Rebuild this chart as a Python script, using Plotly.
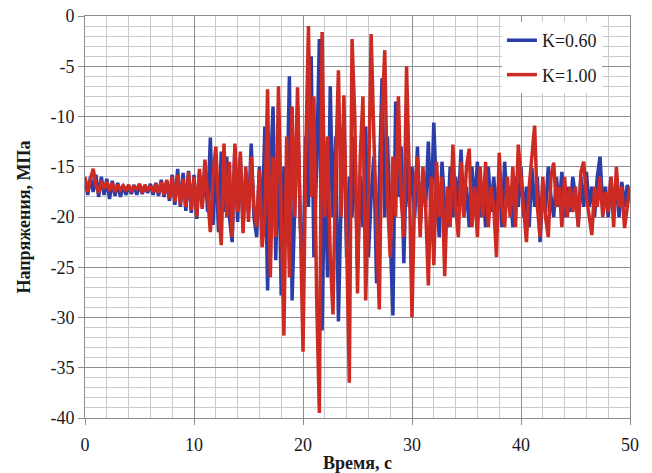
import numpy as np
import plotly.graph_objects as go

# Time grid, 0.25 s step from 0 to 50 s
time_s = np.round(np.arange(0, 50.001, 0.25), 2)

# Stress history, K = 0.60 (MPa)
stress_k060 = [
    -16.2, -17.8, -16.0, -17.5,
    -15.8, -18.0, -16.0, -17.8,
    -16.2, -18.2, -16.4, -17.9,
    -16.6, -18.0, -16.8, -17.8,
    -16.9, -17.7, -16.8, -17.8,
    -16.8, -17.7, -16.9, -17.6,
    -16.7, -17.8, -16.6, -17.9,
    -16.3, -18.0, -16.4, -18.4,
    -15.8, -18.8, -15.2, -19.0,
    -15.6, -19.4, -15.4, -19.6,
    -15.8, -20.2, -15.6, -19.0,
    -14.8, -19.5, -12.1, -20.8,
    -14.0, -21.5, -13.5, -19.5,
    -14.0, -20.0, -22.5, -13.0,
    -20.5, -14.0, -21.0, -15.5,
    -19.5, -12.7, -20.0, -22.0,
    -15.0, -21.5, -11.0, -27.3,
    -16.0, -9.0, -24.3, -12.0,
    -27.8, -15.0, -20.0, -6.0,
    -28.3, -17.0, -9.0, -21.0,
    -25.0, -12.0, -19.0, -4.0,
    -24.0, -15.0, -2.3, -31.3,
    -14.0, -26.0, -7.0, -20.0,
    -12.0, -30.4, -18.0, -10.0,
    -24.0, -16.0, -20.0, -12.0,
    -25.0, -16.0, -21.0, -11.0,
    -24.0, -18.0, -14.0, -26.6,
    -15.0, -6.2, -20.0, -12.0,
    -22.0, -29.8, -8.5, -18.0,
    -13.0, -24.6, -14.0, -19.0,
    -15.0, -20.0, -13.0, -21.0,
    -16.0, -19.0, -12.5, -20.0,
    -10.6, -18.0, -22.0, -14.5,
    -19.0, -21.0, -15.0, -20.0,
    -16.0, -19.0, -13.3, -20.0,
    -17.0, -21.0, -15.0, -19.0,
    -14.5, -20.0, -17.0, -21.0,
    -15.0, -19.5, -16.0, -20.0,
    -16.0, -21.0, -14.5, -19.0,
    -17.0, -21.0, -16.0, -19.0,
    -15.0, -20.0, -17.0, -21.0,
    -15.1, -19.0, -16.0, -22.5,
    -17.0, -19.5, -15.0, -18.0,
    -20.0, -16.0, -19.0, -15.5,
    -20.0, -17.0, -19.5, -16.0,
    -18.0, -20.8, -16.0, -19.0,
    -15.5, -19.0, -17.0, -20.0,
    -16.0, -14.0, -19.0, -17.0,
    -20.0, -16.0, -19.0, -17.0,
    -20.0, -16.5, -19.0, -16.8,
    -18.0,
]

# Stress history, K = 1.00 (MPa)
stress_k100 = [
    -16.0, -17.5, -16.2, -15.2,
    -16.8, -17.6, -16.4, -17.2,
    -16.5, -17.4, -16.6, -17.5,
    -16.8, -17.3, -16.9, -17.4,
    -16.8, -17.5, -16.9, -17.3,
    -16.7, -17.6, -16.8, -17.4,
    -16.9, -17.5, -16.7, -17.6,
    -16.5, -17.8, -16.3, -18.2,
    -16.0, -18.5, -15.8, -18.8,
    -16.2, -19.0, -15.5, -19.3,
    -16.0, -20.0, -15.2, -19.2,
    -14.3, -18.5, -21.5, -16.0,
    -13.0, -19.0, -22.8, -12.7,
    -20.0, -14.5, -22.0, -12.7,
    -19.5, -13.5, -21.6, -15.0,
    -20.5, -14.0, -19.0, -21.0,
    -15.3, -23.0, -20.0, -7.3,
    -26.0, -14.0, -22.0, -7.0,
    -19.0, -31.8, -12.0, -26.0,
    -9.0, -20.0, -7.1, -22.0,
    -33.4, -14.0, -1.0, -18.0,
    -8.0, -28.0, -39.5, -1.6,
    -20.0, -12.0, -24.0, -29.7,
    -15.0, -5.4, -20.0, -7.9,
    -22.0, -36.5, -2.3, -10.0,
    -27.6, -14.0, -8.0, -28.3,
    -18.0, -1.8, -12.0, -22.0,
    -29.2, -10.0, -3.4, -18.0,
    -24.0, -14.0, -20.0, -8.0,
    -18.0, -22.0, -5.0, -16.0,
    -30.0, -17.0, -14.0, -22.0,
    -15.0, -19.0, -26.8, -16.0,
    -24.8, -14.5, -20.0, -16.0,
    -25.9, -17.0, -21.0, -12.8,
    -19.0, -22.0, -14.5, -20.0,
    -15.0, -13.2, -21.0, -17.0,
    -22.0, -15.0, -20.0, -14.5,
    -21.0, -17.0, -19.0, -24.0,
    -13.6, -19.0, -21.0, -16.0,
    -20.0, -15.0, -21.0, -12.8,
    -16.0, -19.0, -22.5, -17.0,
    -14.0, -10.9, -19.0, -22.0,
    -16.0, -20.0, -22.0, -16.0,
    -14.6, -19.0, -17.0, -21.0,
    -16.0, -20.0, -17.0, -19.5,
    -17.0, -21.0, -15.5, -14.5,
    -18.0, -20.0, -21.8, -17.0,
    -19.0, -16.0, -20.0, -17.5,
    -19.5, -16.0, -21.0, -15.0,
    -19.0, -17.0, -21.1, -19.0,
    -17.0,
]

# Axis tick values and their labels (plain hyphen for negatives)
x_ticks = [0, 10, 20, 30, 40, 50]
x_labels = ["0", "10", "20", "30", "40", "50"]
y_ticks = [0, -5, -10, -15, -20, -25, -30, -35, -40]
y_labels = ["0", "-5", "-10", "-15", "-20", "-25", "-30", "-35", "-40"]

series = [
    ("K=0.60", stress_k060, "#2b3ea8"),
    ("K=1.00", stress_k100, "#cc2a22"),
]

SERIF = "Liberation Serif, Times New Roman, serif"
TEXT = "#1a1a1a"

fig = go.Figure()
for name, values, color in series:
    fig.add_trace(go.Scatter(
        x=time_s, y=values, mode="lines", name=name, legendgroup=name,
        line=dict(color=color, width=3.5),
    ))

axis_common = dict(
    showline=True, linecolor="#8c8c94", linewidth=1, mirror=True,
    ticks="outside", ticklen=6, tickcolor="#8c8c94",
    gridcolor="#8e8e96", gridwidth=1,
    tickfont=dict(family=SERIF, size=18, color=TEXT),
    zeroline=False, automargin=False,
)

fig.update_xaxes(
    range=[0, 50], tickmode="array", tickvals=x_ticks, ticktext=x_labels,
    ticklabelstandoff=4,
    minor=dict(dtick=2, tick0=0, showgrid=True, gridcolor="#c9c9d0", gridwidth=1),
    title=dict(text="<b>Время, с</b>", font=dict(family=SERIF, size=18, color=TEXT)),
    **axis_common,
)
fig.update_yaxes(
    range=[-40, 0], tickmode="array", tickvals=y_ticks, ticktext=y_labels,
    ticklabelstandoff=0,
    minor=dict(dtick=1, tick0=0, showgrid=True, gridcolor="#c9c9d0", gridwidth=1),
    title=dict(text="<b>Напряжения, МПа</b>", font=dict(family=SERIF, size=18, color=TEXT)),
    **axis_common,
)

fig.update_layout(
    width=652, height=473,
    margin=dict(l=85, r=22, t=16, b=55),
    paper_bgcolor="white", plot_bgcolor="white",
    showlegend=True,
    legend=dict(
        x=0.765, y=0.985, xanchor="left", yanchor="top",
        bgcolor="white", borderwidth=0,
        font=dict(family=SERIF, size=18, color=TEXT),
        itemwidth=30, tracegroupgap=8,
    ),
)

fig.write_html("out.html")
